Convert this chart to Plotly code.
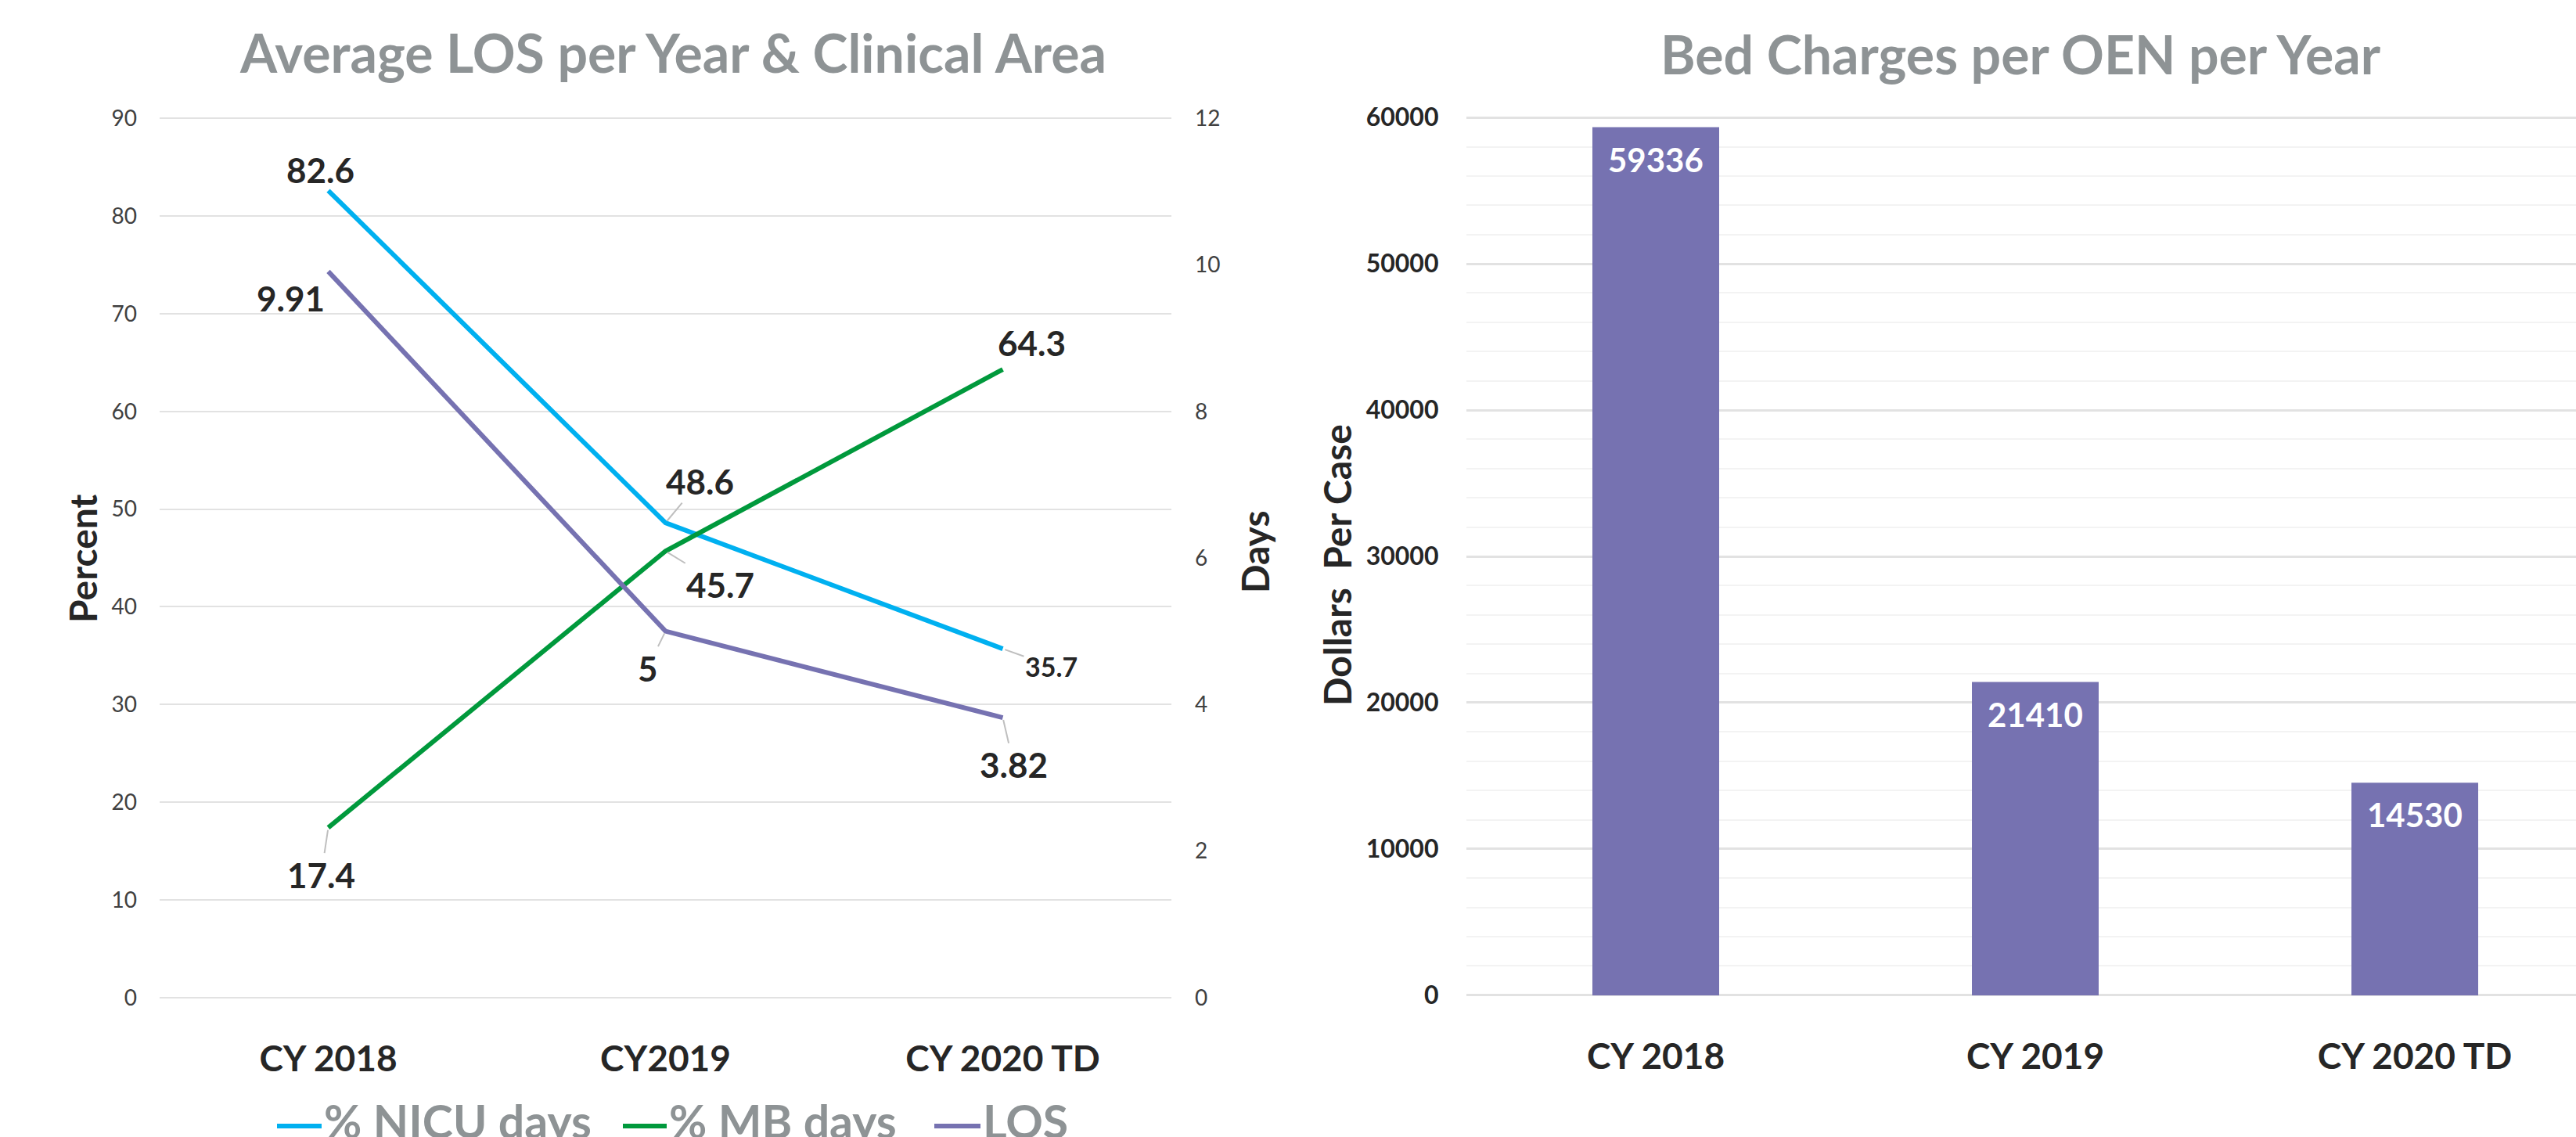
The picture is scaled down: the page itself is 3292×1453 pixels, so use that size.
import plotly.graph_objects as go

# ---- data -------------------------------------------------------------
los_categories = ["CY 2018", "CY2019", "CY 2020 TD"]
nicu_pct = [82.6, 48.6, 35.7]
mb_pct = [17.4, 45.7, 64.3]
los_days = [9.91, 5, 3.82]

charge_categories = ["CY 2018", "CY 2019", "CY 2020 TD"]
bed_charges = [59336, 21410, 14530]

pct_ticks = [0, 10, 20, 30, 40, 50, 60, 70, 80, 90]
day_ticks = [0, 2, 4, 6, 8, 10, 12]
dollar_ticks = [0, 10000, 20000, 30000, 40000, 50000, 60000]

series_names = ["% NICU days", "% MB days", "LOS"]

# ---- styling ----------------------------------------------------------
W, H = 3292, 1453
FONT = "Lato"
CYAN = "#00B0F0"
GREEN = "#00993C"
PURPLE = "#7672B1"
TITLE_GRAY = "#8E9395"
DARK = "#262626"
GRID = "#E2E2E2"
PAD = 0.001  # tiny range padding so the edge gridlines are kept


def px_x(v):
    return v / W


def px_y(v):
    return 1 - v / H


def padded(lo, hi):
    span = hi - lo
    return [lo - span * PAD, hi + span * PAD]


fig = go.Figure()

fig.add_trace(go.Scatter(x=los_categories, y=nicu_pct, mode="lines", name=series_names[0],
                         line=dict(color=CYAN, width=6), xaxis="x", yaxis="y"))
fig.add_trace(go.Scatter(x=los_categories, y=mb_pct, mode="lines", name=series_names[1],
                         line=dict(color=GREEN, width=6), xaxis="x", yaxis="y"))
fig.add_trace(go.Scatter(x=los_categories, y=los_days, mode="lines", name=series_names[2],
                         line=dict(color=PURPLE, width=6), xaxis="x", yaxis="y2"))

fig.add_trace(go.Bar(x=charge_categories, y=bed_charges, marker=dict(color=PURPLE, line=dict(width=0)),
                     width=0.334, xaxis="x3", yaxis="y3"))

annotations = []

# point labels: (dx, dy, leader line, font size) in screen pixels
label_layout = {
    "nicu": [(-10, -27, False, 44), (44, -53, True, 44), (62, 22, True, 34)],
    "mb": [(-9, 60, True, 44), (70, 43, True, 44), (37, -34, False, 44)],
    "los": [(-48, 34, False, 44), (-23, 47, True, 44), (14, 60, True, 44)],
}
series_values = {"nicu": (nicu_pct, "y"), "mb": (mb_pct, "y"), "los": (los_days, "y2")}

for key, (vals, yref) in series_values.items():
    for cat, v, (dx, dy, leader, fs) in zip(los_categories, vals, label_layout[key]):
        base = dict(x=cat, y=v, xref="x", yref=yref, text=f"{v:g}",
                    font=dict(family=FONT, size=fs, color=DARK, weight="bold"))
        if leader:
            base.update(showarrow=True, ax=dx, ay=dy, arrowhead=0, arrowwidth=2,
                        arrowcolor="#BFBFBF", standoff=3)
        else:
            base.update(showarrow=False, xshift=dx, yshift=-dy)
        annotations.append(base)

# bar value labels inside the top of each bar
for cat, v in zip(charge_categories, bed_charges):
    annotations.append(dict(x=cat, y=v, xref="x3", yref="y3", text=str(v), showarrow=False,
                            yanchor="top", yshift=-14,
                            font=dict(family=FONT, size=42, color="white", weight="bold")))

# chart titles
annotations.append(dict(x=px_x(860), y=px_y(24), xref="paper", yref="paper",
                        text="Average LOS per Year & Clinical Area", showarrow=False,
                        xanchor="center", yanchor="top",
                        font=dict(family=FONT, size=68, color=TITLE_GRAY, weight="bold")))
annotations.append(dict(x=px_x(2582), y=px_y(26), xref="paper", yref="paper",
                        text="Bed Charges per OEN per Year", showarrow=False,
                        xanchor="center", yanchor="top",
                        font=dict(family=FONT, size=68, color=TITLE_GRAY, weight="bold")))

# axis titles
for text, cx, cy in [("Percent", 105, 714), ("Days", 1603, 706), ("Dollars  Per Case", 1708, 722)]:
    annotations.append(dict(x=px_x(cx), y=px_y(cy), xref="paper", yref="paper", text=text,
                            showarrow=False, textangle=-90, xanchor="center", yanchor="middle",
                            font=dict(family=FONT, size=48, color=DARK, weight="bold")))

# legend for the line chart (runs off the bottom edge)
shapes = []
legend_items = [(series_names[0], CYAN, 354, 411), (series_names[1], GREEN, 796, 852),
                (series_names[2], PURPLE, 1194, 1253)]
for name, color, x0, x1 in legend_items:
    shapes.append(dict(type="line", xref="paper", yref="paper", x0=px_x(x0), x1=px_x(x1),
                       y0=px_y(1439), y1=px_y(1439), line=dict(color=color, width=6)))
    annotations.append(dict(x=px_x(x1 + 1), y=px_y(1395), xref="paper", yref="paper", text=name,
                            showarrow=False, xanchor="left", yanchor="top",
                            font=dict(family=FONT, size=59, color=TITLE_GRAY, weight="bold")))

tick_font_small = dict(family=FONT, size=28, color="#404040")
cat_font = dict(family=FONT, size=46, color=DARK, weight="bold")

fig.update_layout(
    template="none",
    width=W, height=H,
    margin=dict(l=0, r=0, t=0, b=0, autoexpand=False),
    paper_bgcolor="white", plot_bgcolor="white",
    showlegend=False,
    annotations=annotations,
    shapes=shapes,
    xaxis=dict(domain=[px_x(204), px_x(1497)], anchor="y", type="category",
               range=[-0.5, 2.5], showgrid=False, zeroline=False, showline=False,
               ticks="", automargin=False, tickfont=cat_font, ticklabelstandoff=46),
    yaxis=dict(domain=[px_y(1276), px_y(150)], anchor="x", range=padded(0, 90),
               tickvals=pct_ticks, showgrid=True, gridcolor=GRID, gridwidth=2,
               zeroline=False, showline=False, ticks="", automargin=False,
               tickfont=tick_font_small, ticklabelstandoff=28),
    yaxis2=dict(overlaying="y", side="right", anchor="x", range=padded(0, 12),
                tickvals=day_ticks, showgrid=False, zeroline=False, showline=False,
                ticks="", automargin=False, tickfont=tick_font_small, ticklabelstandoff=29),
    xaxis3=dict(domain=[px_x(1873.5), 1.0], anchor="y3", type="category",
                range=[-0.5, 2.4247], showgrid=False, zeroline=False, showline=False,
                ticks="", automargin=False, tickfont=cat_font, ticklabelstandoff=46),
    yaxis3=dict(domain=[px_y(1273), px_y(149)], anchor="x3", range=padded(0, 60000),
                tickvals=dollar_ticks, tickformat="d", showgrid=True, gridcolor=GRID,
                gridwidth=2.5,
                minor=dict(dtick=2000, showgrid=True, gridcolor="#F3F3F3", gridwidth=2),
                zeroline=False, showline=False, ticks="", automargin=False,
                tickfont=dict(family=FONT, size=32, color=DARK, weight="bold"),
                ticklabelstandoff=34),
)

fig.write_html("out.html")
